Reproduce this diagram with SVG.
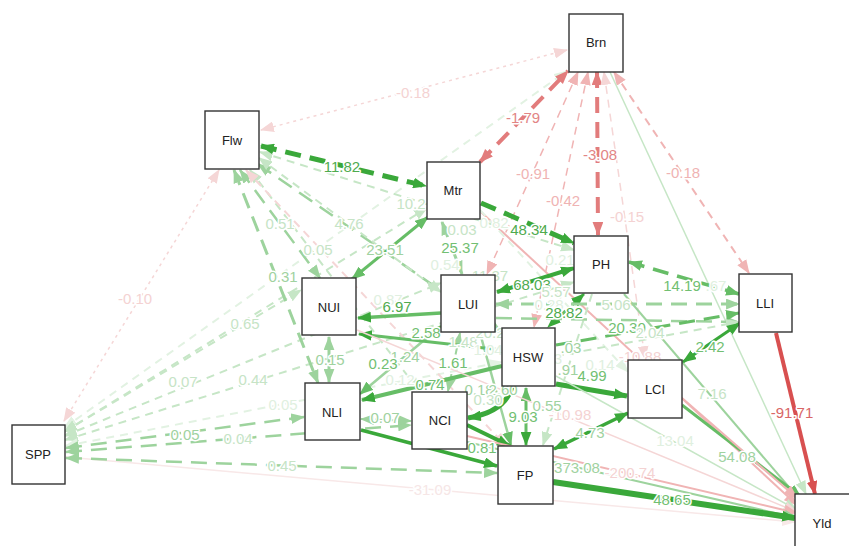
<svg xmlns="http://www.w3.org/2000/svg" width="849" height="546" viewBox="0 0 849 546">
<style>
#connectors line,#connectors path{fill:none}
.G1{stroke:#3aa83a}
.G2{stroke:#66bd66}
.G3{stroke:#9dd39d}
.G4{stroke:#c6e6c6}
.G5{stroke:#e2f2e2}
.R1{stroke:#d85050}
.R2{stroke:#e27c7c}
.R3{stroke:#f0b4b4}
.R4{stroke:#f5d6d6}
.R5{stroke:#f8e8e8}
.d{stroke-dasharray:16 9}
.dl{stroke-dasharray:8 6}
.dt{stroke-dasharray:3 4}
text{font-family:"Liberation Sans",Arial,sans-serif}
.lb{font-size:15px;text-anchor:middle;paint-order:stroke;stroke:#fff;stroke-width:3px;stroke-linejoin:round}
.tG1{fill:#4fab4f}.tG2{fill:#72bf72}.tG3{fill:#a0d2a0}.tG4{fill:#c6e4c6}.tG5{fill:#e0f0e0}
.tR1{fill:#d96666}.tR2{fill:#e28585}.tR3{fill:#efb3b3}.tR4{fill:#f4d2d2}.tR5{fill:#f6e6e6}
.node rect{fill:#fff;stroke:#333;stroke-width:1.4}
.node text{font-size:13px;fill:#222;text-anchor:middle}
</style>
<defs>
<marker id="aG1" viewBox="0 0 13 10" refX="12" refY="5" markerWidth="14" markerHeight="11" markerUnits="userSpaceOnUse" orient="auto-start-reverse"><path d="M0,0L13,5L0,10z" fill="#3aa83a"/></marker>
<marker id="aG2" viewBox="0 0 13 10" refX="12" refY="5" markerWidth="14" markerHeight="11" markerUnits="userSpaceOnUse" orient="auto-start-reverse"><path d="M0,0L13,5L0,10z" fill="#66bd66"/></marker>
<marker id="aG3" viewBox="0 0 13 10" refX="12" refY="5" markerWidth="14" markerHeight="11" markerUnits="userSpaceOnUse" orient="auto-start-reverse"><path d="M0,0L13,5L0,10z" fill="#9dd39d"/></marker>
<marker id="aG4" viewBox="0 0 13 10" refX="12" refY="5" markerWidth="14" markerHeight="11" markerUnits="userSpaceOnUse" orient="auto-start-reverse"><path d="M0,0L13,5L0,10z" fill="#c6e6c6"/></marker>
<marker id="aG5" viewBox="0 0 13 10" refX="12" refY="5" markerWidth="14" markerHeight="11" markerUnits="userSpaceOnUse" orient="auto-start-reverse"><path d="M0,0L13,5L0,10z" fill="#e2f2e2"/></marker>
<marker id="aR1" viewBox="0 0 13 10" refX="12" refY="5" markerWidth="14" markerHeight="11" markerUnits="userSpaceOnUse" orient="auto-start-reverse"><path d="M0,0L13,5L0,10z" fill="#d85050"/></marker>
<marker id="aR2" viewBox="0 0 13 10" refX="12" refY="5" markerWidth="14" markerHeight="11" markerUnits="userSpaceOnUse" orient="auto-start-reverse"><path d="M0,0L13,5L0,10z" fill="#e27c7c"/></marker>
<marker id="aR3" viewBox="0 0 13 10" refX="12" refY="5" markerWidth="14" markerHeight="11" markerUnits="userSpaceOnUse" orient="auto-start-reverse"><path d="M0,0L13,5L0,10z" fill="#f0b4b4"/></marker>
<marker id="aR4" viewBox="0 0 13 10" refX="12" refY="5" markerWidth="14" markerHeight="11" markerUnits="userSpaceOnUse" orient="auto-start-reverse"><path d="M0,0L13,5L0,10z" fill="#f5d6d6"/></marker>
<marker id="aR5" viewBox="0 0 13 10" refX="12" refY="5" markerWidth="14" markerHeight="11" markerUnits="userSpaceOnUse" orient="auto-start-reverse"><path d="M0,0L13,5L0,10z" fill="#f8e8e8"/></marker>
</defs>
<rect width="849" height="546" fill="#fff"/>
<g id="connectors" stroke-width="2">
<line class="R5" x1="66" y1="457" x2="795" y2="522" stroke-width="1.5" marker-end="url(#aR5)"/>
<line class="R4 dt" x1="64" y1="421" x2="219" y2="170" stroke-width="1.5" marker-start="url(#aR4)" marker-end="url(#aR4)"/>
<line class="R4 dt" x1="567" y1="50" x2="261" y2="130" stroke-width="1.5" marker-start="url(#aR4)" marker-end="url(#aR4)"/>
<line class="G5 dl" x1="64" y1="428" x2="567" y2="71" marker-start="url(#aG5)" marker-end="url(#aG5)"/>
<line class="G4 dl" x1="64" y1="432" x2="427" y2="208" marker-start="url(#aG4)" marker-end="url(#aG4)"/>
<line class="G4 dl" x1="64" y1="432" x2="301" y2="290" marker-start="url(#aG4)" marker-end="url(#aG4)"/>
<line class="G4 dl" x1="64" y1="436" x2="441" y2="283" marker-start="url(#aG4)" marker-end="url(#aG4)"/>
<line class="G4 dl" x1="65" y1="440" x2="574" y2="282" marker-start="url(#aG4)" marker-end="url(#aG4)"/>
<line class="G5 dl" x1="65" y1="446" x2="502" y2="362" marker-start="url(#aG5)" marker-end="url(#aG5)"/>
<line class="G3 d" x1="66" y1="448" x2="304" y2="417" stroke-width="2.5" marker-start="url(#aG3)" marker-end="url(#aG3)"/>
<line class="G3 d" x1="66" y1="452" x2="411" y2="425" stroke-width="2.5" marker-start="url(#aG3)" marker-end="url(#aG3)"/>
<line class="G3 d" x1="66" y1="458" x2="497" y2="473" stroke-width="2.5" marker-start="url(#aG3)" marker-end="url(#aG3)"/>
<line class="G3 d" x1="240" y1="170" x2="320" y2="278" stroke-width="2.5" marker-start="url(#aG3)" marker-end="url(#aG3)"/>
<line class="G3 d" x1="234" y1="170" x2="318" y2="383" stroke-width="3" marker-start="url(#aG3)" marker-end="url(#aG3)"/>
<line class="G4 dl" x1="250" y1="170" x2="420" y2="392" marker-start="url(#aG4)" marker-end="url(#aG4)"/>
<line class="G3 d" x1="258" y1="164" x2="502" y2="333" stroke-width="2.5" marker-start="url(#aG3)" marker-end="url(#aG3)"/>
<line class="G4 dl" x1="259" y1="158" x2="441" y2="292" marker-start="url(#aG4)" marker-end="url(#aG4)"/>
<line class="R4 dl" x1="246" y1="170" x2="506" y2="446" marker-start="url(#aR4)" marker-end="url(#aR4)"/>
<line class="G4 dl" x1="260" y1="152" x2="574" y2="250" marker-start="url(#aG4)" marker-end="url(#aG4)"/>
<line class="G1 d" x1="261" y1="146" x2="426" y2="186" stroke-width="5" marker-start="url(#aG1)" marker-end="url(#aG1)"/>
<line class="R2 d" x1="480" y1="162" x2="568" y2="71" stroke-width="4" marker-start="url(#aR2)" marker-end="url(#aR2)"/>
<line class="R2 d" x1="597" y1="72" x2="598" y2="235" stroke-width="4" marker-start="url(#aR2)" marker-end="url(#aR2)"/>
<line class="R3 dl" x1="578" y1="72" x2="487" y2="274" stroke-width="1.5" marker-start="url(#aR3)" marker-end="url(#aR3)"/>
<line class="R3 dl" x1="588" y1="72" x2="534" y2="327" stroke-width="1.5" marker-start="url(#aR3)" marker-end="url(#aR3)"/>
<line class="R4 dl" x1="604" y1="72" x2="645" y2="359" stroke-width="1.5" marker-start="url(#aR4)" marker-end="url(#aR4)"/>
<line class="R3 dl" x1="614" y1="72" x2="749" y2="273" marker-start="url(#aR3)" marker-end="url(#aR3)"/>
<line class="G4" x1="610" y1="72" x2="806" y2="494" stroke-width="1.5" marker-end="url(#aG4)"/>
<line class="G1 d" x1="481" y1="203" x2="574" y2="243" stroke-width="5" marker-end="url(#aG1)"/>
<line class="G3 d" x1="442" y1="222" x2="462" y2="274" stroke-width="3" marker-start="url(#aG3)" marker-end="url(#aG3)"/>
<line class="R3" x1="481" y1="212" x2="797" y2="505" marker-end="url(#aR3)"/>
<line class="G2" x1="352" y1="279" x2="428" y2="217" stroke-width="3" marker-start="url(#aG2)" marker-end="url(#aG2)"/>
<line class="G5 dl" x1="480" y1="210" x2="628" y2="372" marker-end="url(#aG5)"/>
<line class="G1" x1="497" y1="292" x2="574" y2="268" stroke-width="4" marker-start="url(#aG1)" marker-end="url(#aG1)"/>
<line class="G2 d" x1="629" y1="262" x2="739" y2="294" stroke-width="3.5" marker-start="url(#aG2)" marker-end="url(#aG2)"/>
<line class="G2 d" x1="584" y1="294" x2="548" y2="327" stroke-width="3" marker-start="url(#aG1)" marker-end="url(#aG1)"/>
<line class="G3" x1="624" y1="294" x2="800" y2="500" marker-end="url(#aG3)"/>
<line class="G4 dl" x1="592" y1="294" x2="543" y2="445" marker-end="url(#aG4)"/>
<line class="G3 d" x1="496" y1="304" x2="739" y2="304" stroke-width="3" marker-start="url(#aG3)" marker-end="url(#aG3)"/>
<line class="G2" x1="441" y1="313" x2="358" y2="318" stroke-width="3.5" marker-end="url(#aG1)"/>
<line class="G3" x1="441" y1="326" x2="360" y2="394" stroke-width="2.5" marker-start="url(#aG2)" marker-end="url(#aG2)"/>
<line class="G3 dl" x1="460" y1="333" x2="448" y2="391" marker-start="url(#aG3)" marker-end="url(#aG3)"/>
<line class="G3" x1="480" y1="333" x2="511" y2="445" stroke-width="2.5" marker-end="url(#aG2)"/>
<line class="G3 d" x1="496" y1="318" x2="739" y2="322" stroke-width="2.5" marker-end="url(#aG3)"/>
<line class="G2" x1="502" y1="366" x2="362" y2="400" stroke-width="4" marker-end="url(#aG1)"/>
<line class="G2" x1="502" y1="350" x2="359" y2="334" stroke-width="3" marker-end="url(#aG1)"/>
<path class="G1" d="M512,387 Q505,412 468,418" stroke-width="5" marker-end="url(#aG1)"/>
<line class="G1" x1="556" y1="384" x2="627" y2="396" stroke-width="5" marker-end="url(#aG1)"/>
<line class="G2" x1="526" y1="388" x2="526" y2="445" stroke-width="3" marker-start="url(#aG2)" marker-end="url(#aG1)"/>
<line class="G4" x1="556" y1="376" x2="797" y2="510" stroke-width="1.5" marker-end="url(#aG4)"/>
<line class="G2 d" x1="556" y1="345" x2="739" y2="313" stroke-width="3" marker-end="url(#aG2)"/>
<line class="G4 dl" x1="556" y1="356" x2="739" y2="322" marker-end="url(#aG4)"/>
<line class="G3" x1="329" y1="337" x2="329" y2="382" stroke-width="3" marker-start="url(#aG3)" marker-end="url(#aG3)"/>
<line class="R4" x1="357" y1="330" x2="797" y2="512" stroke-width="1.5" marker-end="url(#aR4)"/>
<line class="G3 dl" x1="361" y1="419" x2="411" y2="421" marker-start="url(#aG3)" marker-end="url(#aG3)"/>
<line class="G1" x1="361" y1="430" x2="497" y2="466" stroke-width="3.5" marker-end="url(#aG1)"/>
<line class="G1" x1="467" y1="425" x2="510" y2="446" stroke-width="4" marker-end="url(#aG1)"/>
<line class="R3" x1="467" y1="436" x2="797" y2="513" marker-end="url(#aR3)"/>
<line class="G3" x1="467" y1="442" x2="797" y2="518" marker-end="url(#aG3)"/>
<line class="G1" x1="553" y1="482" x2="795" y2="518" stroke-width="6" marker-end="url(#aG1)"/>
<line class="G2" x1="682" y1="405" x2="801" y2="497" stroke-width="3" marker-end="url(#aG2)"/>
<line class="R3" x1="682" y1="398" x2="797" y2="498" marker-end="url(#aR3)"/>
<line class="G1" x1="628" y1="413" x2="554" y2="449" stroke-width="3.5" marker-start="url(#aG1)" marker-end="url(#aG1)"/>
<line class="G1" x1="683" y1="362" x2="740" y2="323" stroke-width="3" marker-start="url(#aG1)" marker-end="url(#aG1)"/>
<line class="R1" x1="776" y1="333" x2="815" y2="494" stroke-width="4" marker-end="url(#aR1)"/>
</g>
<g id="labels" class="lb">
<text class="tR5" x="430" y="495">-31.09</text>
<text class="tR4" x="135" y="304">-0.10</text>
<text class="tR4" x="413" y="98">-0.18</text>
<text class="tG1" x="342" y="172">11.82</text>
<text class="tR2" x="523" y="123">-1.79</text>
<text class="tR2" x="600" y="160">-3.08</text>
<text class="tR3" x="533" y="179">-0.91</text>
<text class="tR3" x="563" y="206">-0.42</text>
<text class="tR4" x="627" y="222">-0.15</text>
<text class="tR3" x="683" y="178">-0.18</text>
<text class="tG4" x="411" y="209">10.2</text>
<text class="tG4" x="280" y="229">0.51</text>
<text class="tG4" x="349" y="229">4.76</text>
<text class="tG4" x="318" y="255">0.05</text>
<text class="tG3" x="385" y="255">23.51</text>
<text class="tG3" x="283" y="282">0.31</text>
<text class="tG4" x="245" y="329">0.65</text>
<text class="tG4" x="183" y="387">0.07</text>
<text class="tG4" x="253" y="385">0.44</text>
<text class="tG5" x="283" y="410">0.05</text>
<text class="tG3" x="185" y="440">0.05</text>
<text class="tG4" x="238" y="444">0.04</text>
<text class="tG4" x="282" y="471">0.45</text>
<text class="tG3" x="330" y="365">0.15</text>
<text class="tG3" x="405" y="362">1.24</text>
<text class="tG2" x="383" y="369">0.23</text>
<text class="tG5" x="400" y="385">0.12</text>
<text class="tG2" x="453" y="368">1.61</text>
<text class="tG2" x="430" y="390">0.74</text>
<text class="tG3" x="385" y="423">0.07</text>
<text class="tG2" x="426" y="338">2.58</text>
<text class="tG4" x="463" y="347">1.48</text>
<text class="tG5" x="388" y="305">0.87</text>
<text class="tG1" x="397" y="312">6.97</text>
<text class="tG2" x="460" y="253">25.37</text>
<text class="tG4" x="462" y="235">0.03</text>
<text class="tG5" x="494" y="228">0.82</text>
<text class="tG1" x="529" y="235">48.34</text>
<text class="tG5" x="445" y="270">0.54</text>
<text class="tG4" x="490" y="281">11.37</text>
<text class="tG5" x="560" y="265">0.21</text>
<text class="tG1" x="532" y="290">68.03</text>
<text class="tG4" x="556" y="297">5.57</text>
<text class="tG5" x="549" y="310">0.28</text>
<text class="tG1" x="564" y="318">28.82</text>
<text class="tG4" x="616" y="310">5.06</text>
<text class="tG2" x="682" y="291">14.19</text>
<text class="tG5" x="716" y="291">.67</text>
<text class="tG2" x="627" y="333">20.30</text>
<text class="tG4" x="650" y="338">2.04</text>
<text class="tG2" x="710" y="352">2.42</text>
<text class="tR4" x="640" y="362">-10.88</text>
<text class="tG5" x="600" y="370">0.14</text>
<text class="tG2" x="592" y="381">4.99</text>
<text class="tG3" x="571" y="353">.03</text>
<text class="tG5" x="558" y="364">3</text>
<text class="tG3" x="568" y="375">.91</text>
<text class="tG4" x="490" y="338">20.2</text>
<text class="tG5" x="488" y="355">1.04</text>
<text class="tG3" x="479" y="395">0.18</text>
<text class="tG3" x="503" y="395">2.60</text>
<text class="tG4" x="488" y="405">0.30</text>
<text class="tR4" x="570" y="420">-10.98</text>
<text class="tG3" x="547" y="411">0.55</text>
<text class="tG2" x="523" y="422">9.03</text>
<text class="tG3" x="590" y="438">4.73</text>
<text class="tG2" x="482" y="453">0.81</text>
<text class="tG3" x="577" y="473">373.08</text>
<text class="tR4" x="630" y="478">-200.74</text>
<text class="tG5" x="675" y="446">13.04</text>
<text class="tG3" x="737" y="462">54.08</text>
<text class="tG4" x="712" y="399">7.16</text>
<text class="tR1" x="792" y="418">-91.71</text>
<text class="tG2" x="672" y="505">48.65</text>
</g>
<g id="Brn" class="node"><rect x="569" y="14" width="54" height="58"/><text x="596" y="47">Brn</text></g>
<g id="Flw" class="node"><rect x="205" y="111" width="54" height="58"/><text x="232" y="145">Flw</text></g>
<g id="Mtr" class="node"><rect x="427" y="162" width="53" height="57"/><text x="453" y="195">Mtr</text></g>
<g id="PH" class="node"><rect x="574" y="236" width="54" height="57"/><text x="601" y="269">PH</text></g>
<g id="LLI" class="node"><rect x="739" y="274" width="53" height="58"/><text x="765" y="308">LLI</text></g>
<g id="NUI" class="node"><rect x="302" y="278" width="54" height="57"/><text x="329" y="312">NUI</text></g>
<g id="LUI" class="node"><rect x="441" y="275" width="54" height="57"/><text x="468" y="309">LUI</text></g>
<g id="HSW" class="node"><rect x="502" y="328" width="53" height="58"/><text x="528" y="362">HSW</text></g>
<g id="NLI" class="node"><rect x="305" y="383" width="55" height="57"/><text x="332" y="417">NLI</text></g>
<g id="NCI" class="node"><rect x="412" y="392" width="55" height="57"/><text x="440" y="425">NCI</text></g>
<g id="LCI" class="node"><rect x="628" y="360" width="54" height="58"/><text x="655" y="394">LCI</text></g>
<g id="FP" class="node"><rect x="498" y="446" width="55" height="58"/><text x="525" y="480">FP</text></g>
<g id="SPP" class="node"><rect x="12" y="425" width="53" height="59"/><text x="38" y="459">SPP</text></g>
<g id="Yld" class="node"><rect x="795" y="494" width="55" height="58"/><text x="822" y="528">Yld</text></g>
</svg>
